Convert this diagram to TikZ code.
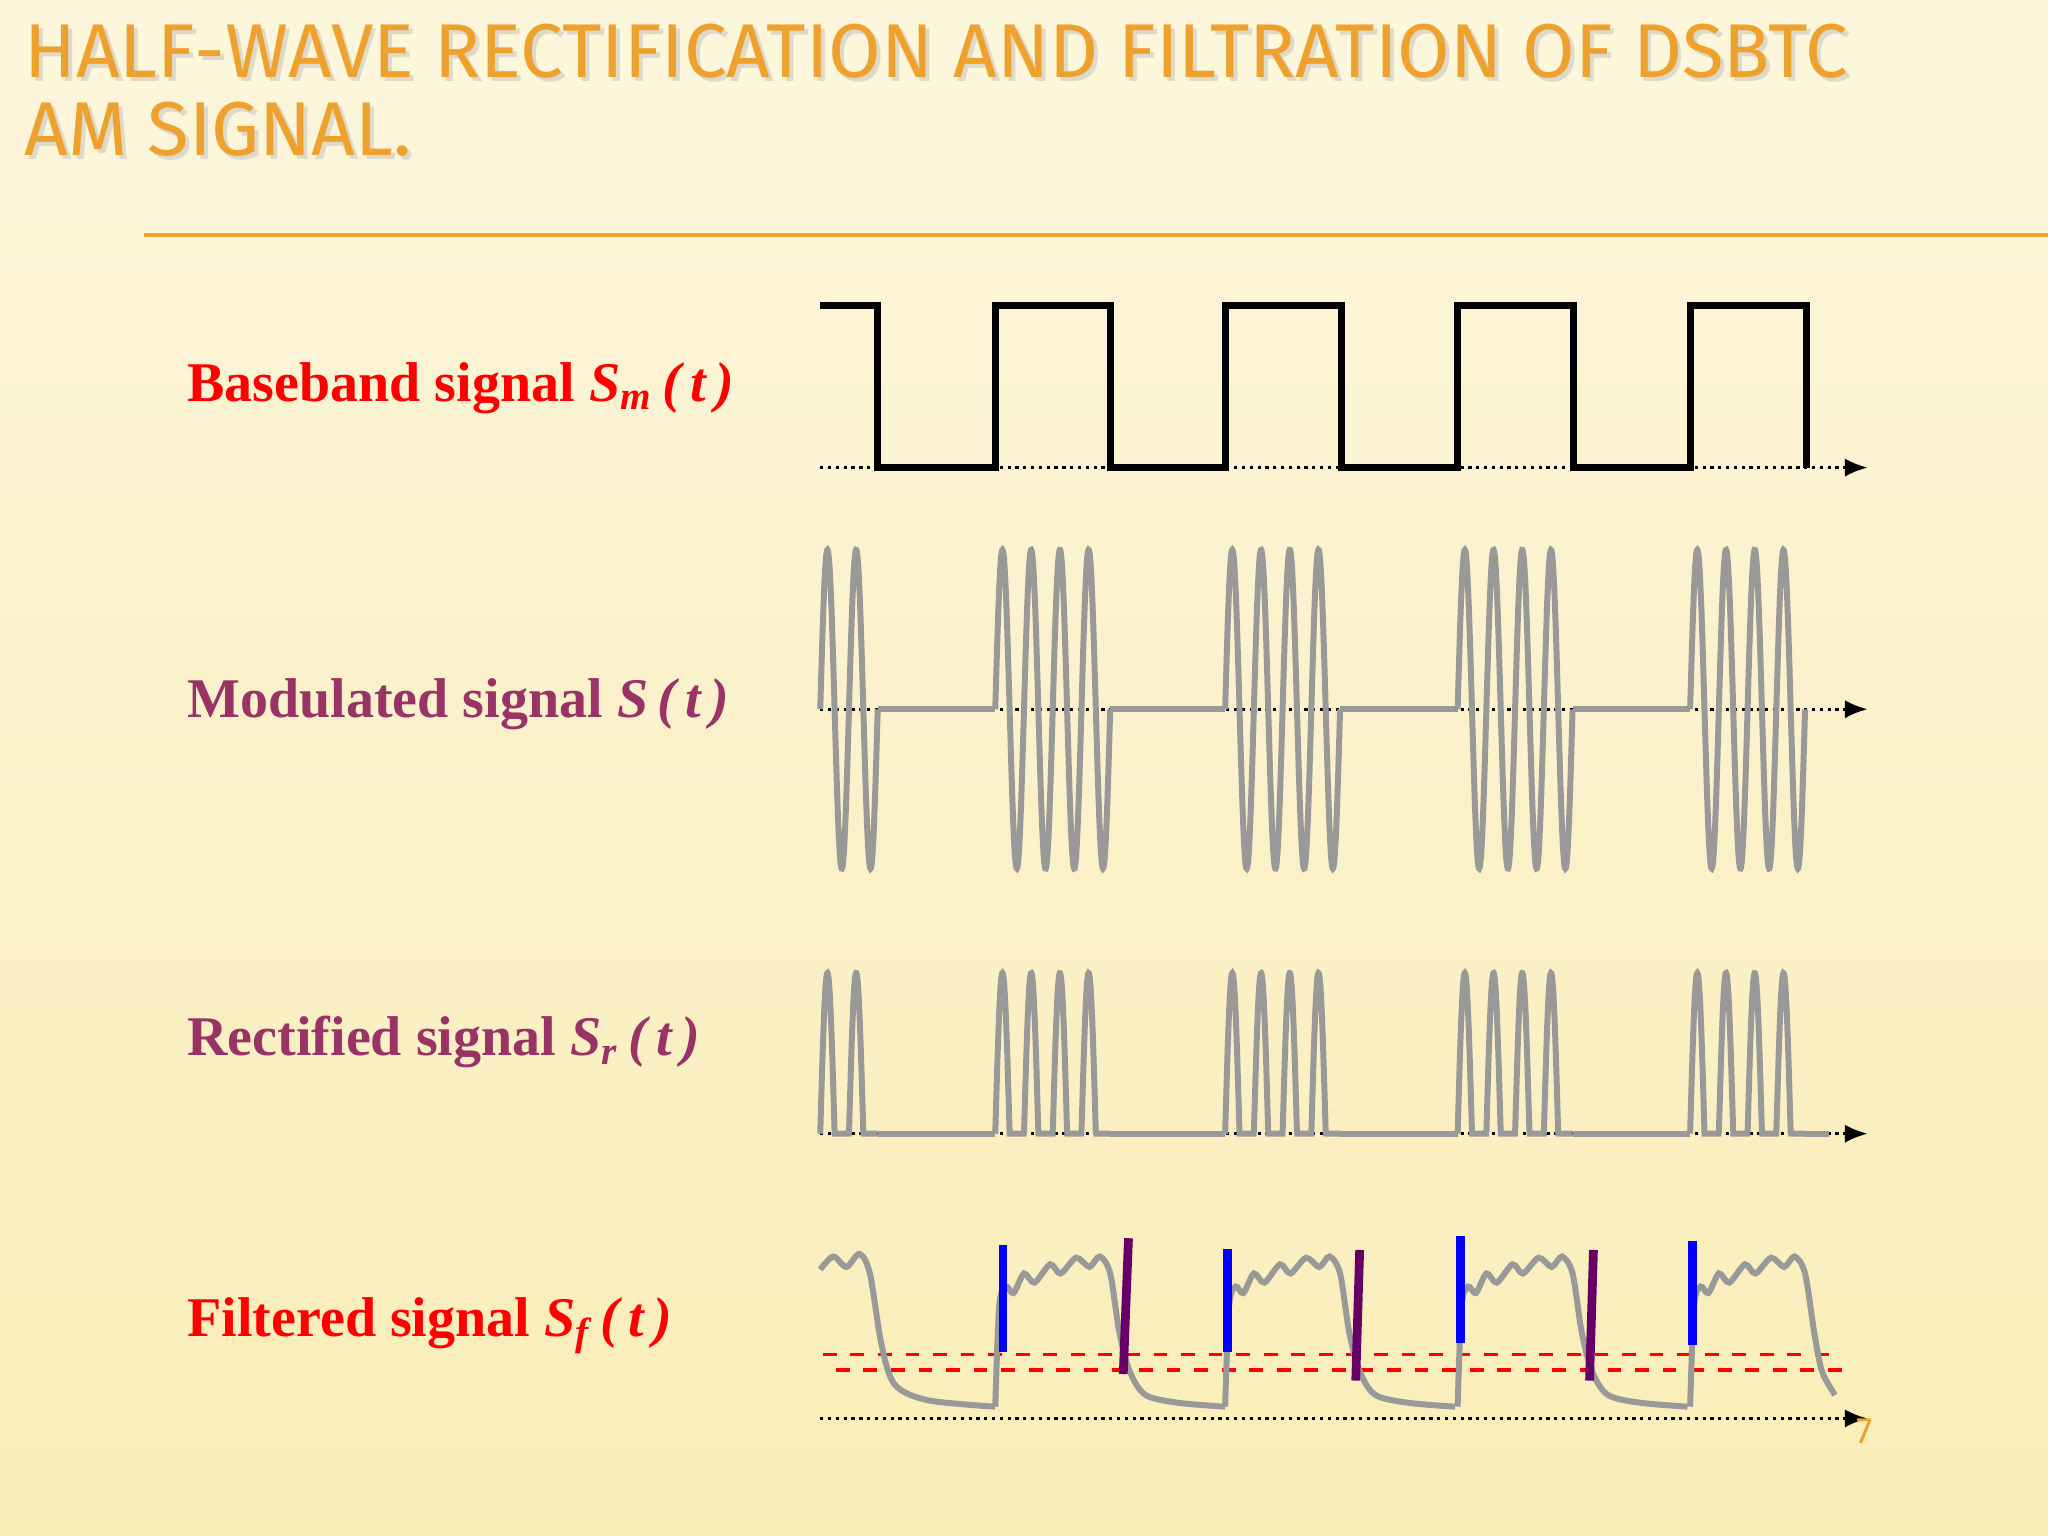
\documentclass[tikz,border=0pt]{standalone}
\usepackage{fontspec}
\setmainfont{Liberation Serif}
\newfontfamily\titlefont{Fira Sans}
\usetikzlibrary{arrows.meta}
\definecolor{ttl}{HTML}{EFA12E}
\definecolor{bgA}{HTML}{FAEDB8}
\definecolor{bgB}{HTML}{FCF6DC}
\definecolor{plum}{HTML}{993366}
\definecolor{wave}{HTML}{999999}
\tikzset{
  axis/.style={densely dotted, line width=0.7pt, -{Latex[length=5pt,width=4pt]}},
  sig/.style={wave, line width=1.3pt},
  lbl/.style={anchor=west, font=\bfseries\fontsize{12.2}{14}\selectfont},
  ttlstyle/.style={anchor=north west, align=left, text=ttl, font=\titlefont\fontsize{16.6}{17}\selectfont, inner sep=0pt}
}
\begin{document}
\begin{tikzpicture}[x=0.01cm,y=-0.01cm]
\useasboundingbox (0,0) rectangle (1568,1176);
\shade[top color=bgB, bottom color=bgA] (0,0) rectangle (1568,1176);
% title
\node[ttlstyle, text=black!25, opacity=0.5] at (21,21) {HALF-WAVE RECTIFICATION AND FILTRATION OF DSBTC\\AM SIGNAL.};
\node[ttlstyle] (title) at (18,18) {HALF-WAVE RECTIFICATION AND FILTRATION OF DSBTC\\AM SIGNAL.};
\draw[ttl, line width=0.8pt] (110,180) -- (1568,180);
% labels
\node[lbl, text=red] (l1) at (131,297) {Baseband signal \textit{S\textsubscript{m}\,(\,t\,)}};
\node[lbl, text=plum] (l2) at (131,539) {Modulated signal \textit{S\,(\,t\,)}};
\node[lbl, text=plum] (l3) at (131,798) {Rectified signal \textit{S\textsubscript{r}\,(\,t\,)}};
\node[lbl, text=red] (l4) at (131,1015) {Filtered signal \textit{S\textsubscript{f}\,(\,t\,)}};
% baseband
\draw[axis] (628,358) -- (1430,358);
\draw[line width=1.5pt, line join=miter] (628,234) -- (672,234) -- (672,358) -- (762,358) -- (762,234) -- (850,234) -- (850,358)
 -- (938,358) -- (938,234) -- (1027,234) -- (1027,358) -- (1116,358) -- (1116,234) -- (1205,234) -- (1205,358)
 -- (1294,358) -- (1294,234) -- (1383,234) -- (1383,358);
% modulated
\draw[axis] (628,543) -- (1430,543);
\draw[sig] plot[domain=0:44, samples=160] ({628+\x},{543-122*sin(\x*16.3636)});
\foreach \r in {762,938,1116,1294}
  \draw[sig] plot[domain=0:88, samples=320] ({\r+\x},{543-122*sin(\x*16.3636)});
\draw[sig] (672,543) -- (762,543) (850,543) -- (938,543) (1026,543) -- (1116,543) (1204,543) -- (1294,543);
% rectified
\draw[axis] (628,868) -- (1430,868);
\draw[sig] plot[domain=0:44, samples=160] ({628+\x},{868-123*max(0,sin(\x*16.3636))});
\foreach \r in {762,938,1116,1294}
  \draw[sig] plot[domain=0:88, samples=320] ({\r+\x},{868-123*max(0,sin(\x*16.3636))});
\draw[sig] (672,868) -- (762,868) (850,868) -- (938,868) (1026,868) -- (1116,868) (1204,868) -- (1294,868) (1382,868) -- (1400,868);
% filtered
\draw[axis] (628,1086) -- (1430,1086);
\draw[red, dashed, line width=0.8pt] (630,1037) -- (1400,1037);
\draw[red, dashed, line width=0.8pt] (640,1049) -- (1410,1049);
\draw[sig] plot[smooth] coordinates {(628,972) (638,962) (648,970) (658,960) (666,975) (675,1030) (685,1060) (710,1072) (762,1077)};
\foreach \r in {762,938,1116}
  \draw[sig] plot[smooth] coordinates {(\r,1077) (\r+3,1000) (\r+8,985) (\r+14,990) (\r+22,975) (\r+30,982) (\r+42,968) (\r+50,975) (\r+62,963) (\r+72,970) (\r+80,962) (\r+88,975) (\r+95,1020) (\r+103,1050) (\r+115,1068) (\r+140,1074) (\r+176,1077)};
\draw[sig] plot[smooth] coordinates {(1294,1077) (1297,1000) (1302,985) (1308,990) (1316,975) (1324,982) (1336,968) (1344,975) (1356,963) (1366,970) (1374,962) (1382,975) (1389,1020) (1395,1050) (1405,1068)};
\foreach \x/\a/\b in {768/953/1035, 940/956/1035, 1118/946/1028, 1296/950/1030}
  \draw[blue, line width=1.9pt] (\x,\a) -- (\x,\b);
\foreach \xa/\ya/\xb/\yb in {864/948/860/1052, 1041/957/1038/1057, 1220/957/1217/1057}
  \draw[violet!80!black, line width=1.9pt] (\xa,\ya) -- (\xb,\yb);
\node[text=ttl, font=\titlefont\fontsize{8}{9}\selectfont] (pg) at (1428,1096) {7};
\end{tikzpicture}
\end{document}
